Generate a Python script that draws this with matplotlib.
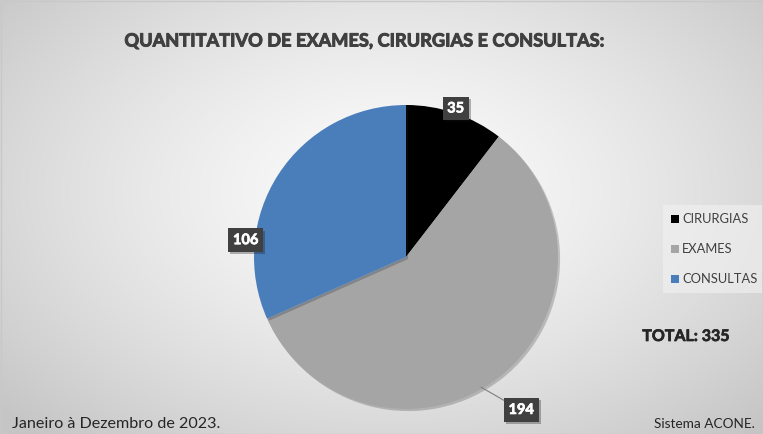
import numpy as np
import matplotlib.pyplot as plt
import matplotlib.patheffects as pe

categorias = ["CIRURGIAS", "EXAMES", "CONSULTAS"]
valores = [35, 194, 106]
cores = ["#000000", "#a5a5a5", "#4a7ebb"]
titulo = "QUANTITATIVO DE EXAMES, CIRURGIAS E CONSULTAS:"
rodape_esq = "Janeiro à Dezembro de 2023."
rodape_dir = "Sistema ACONE."

W, H = 763, 434
fig = plt.figure(figsize=(W / 100, H / 100), dpi=100)
plt.rcParams['font.family'] = ['Lato', 'DejaVu Sans']
grosso = [pe.withStroke(linewidth=0.7, foreground="#404040")]

# fundo com gradiente radial
bg = fig.add_axes([0, 0, 1, 1])
yy, xx = np.mgrid[0:H, 0:W]
d = np.sqrt(((xx - 390) / 520.0) ** 2 + ((yy - 190) / 330.0) ** 2)
d = np.clip(d, 0, 1)
g = 0.985 - 0.21 * d ** 1.4
img = np.dstack([g, g, g])
bg.imshow(img, extent=[0, W, H, 0], aspect='auto')
bg.set_xlim(0, W)
bg.set_ylim(H, 0)
bg.axis('off')
bg.add_patch(plt.Rectangle((0.5, 0.5), W - 1, H - 1, fill=False, ec="#c8c8c8", lw=1))

# pizza
cx, cy, r = 406, 257, 152
ax = fig.add_axes([(cx - r) / W, 1 - (cy + r) / H, 2 * r / W, 2 * r / H])
wedges, _ = ax.pie(valores, colors=cores, startangle=90, counterclock=False,
                   radius=1.0, wedgeprops=dict(linewidth=0))
for w in wedges:
    w.set_path_effects([pe.SimplePatchShadow(offset=(1.5, -1.5), alpha=0.25), pe.Normal()])
ax.set_xlim(-1, 1)
ax.set_ylim(-1, 1)
ax.set_aspect('equal')
ax.axis('off')

# posicoes dos rotulos (angulo, raio) como o Excel colocou
pos_rot = [(71.5, 1.03), (-53.0, 1.26), (174.0, 1.06)]
caixa = dict(boxstyle="square,pad=0.32", fc="#404040", ec="none")
for v, (ang, rr) in zip(valores, pos_rot):
    a = np.deg2rad(ang)
    x, y = rr * np.cos(a), rr * np.sin(a)
    t = ax.text(x, y, str(v), ha='center', va='center', color='white',
                fontsize=10.5, fontweight='bold', bbox=caixa, zorder=5)
    t.set_path_effects([pe.withStroke(linewidth=0.5, foreground="white")])
    t.get_bbox_patch().set_path_effects([pe.SimplePatchShadow(offset=(1.5, -1.5), alpha=0.3), pe.Normal()])

# linha guia do 194
a0 = np.deg2rad(-60.0)
ax.plot([np.cos(a0) * 0.99, 0.70, 0.745], [np.sin(a0) * 0.99, -0.975, -0.975],
        color="#7f7f7f", lw=0.8, zorder=4, clip_on=False)

# titulo
fig.text(364 / W, 1 - 41 / H, titulo, ha='center', va='center',
         fontsize=13.1, fontweight='bold', color="#404040", path_effects=grosso)

# legenda
bg.add_patch(plt.Rectangle((663, 205), 99, 88, fc="#f2f2f2", ec="none", alpha=0.6))
for i, (lab, c) in enumerate(zip(categorias, cores)):
    yl = 219 + i * 30
    bg.add_patch(plt.Rectangle((671, yl - 4), 8, 8, fc=c, ec="none"))
    bg.text(682, yl, lab, ha='left', va='center', fontsize=9.3, color="#404040")

bg.text(686, 337, "TOTAL: %d" % sum(valores), ha='center', va='center',
        fontsize=11.5, fontweight='bold', color="#262626",
        path_effects=[pe.withStroke(linewidth=0.5, foreground="#262626")])

bg.text(12, 424, rodape_esq, ha='left', va='center', fontsize=11.6, color="#262626")
bg.text(755, 424, rodape_dir, ha='right', va='center', fontsize=9.8, color="#262626")

fig.savefig("out.png", dpi=100)
